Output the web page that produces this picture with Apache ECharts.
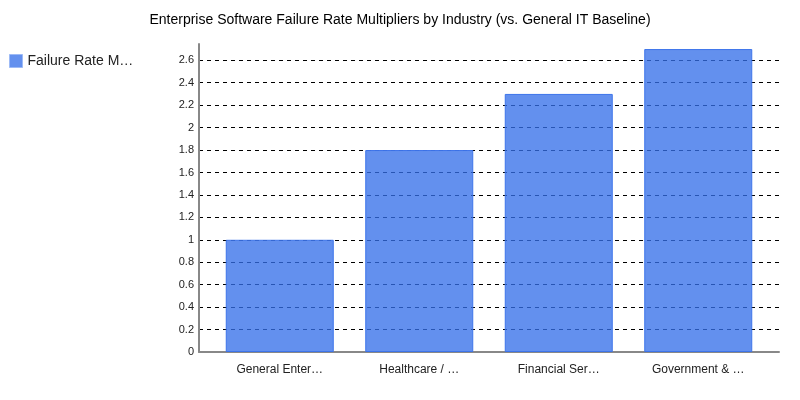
<!DOCTYPE html>
<html>
<head>
<meta charset="utf-8">
<script src="https://cdn.jsdelivr.net/npm/echarts@6/dist/echarts.min.js"></script>
<style>
  html, body { margin: 0; padding: 0; background: #fff; }
  #main { width: 800px; height: 400px; }
</style>
</head>
<body>
<div id="main"></div>
<script>
var industries = ['General Enterprise IT', 'Healthcare / Life Sciences', 'Financial Services', 'Government & Defense'];
var multipliers = [1.0, 1.8, 2.3, 2.7];
var seriesName = 'Failure Rate Multiplier';

var myChart = echarts.init(document.getElementById('main'));

function cut(s, n) {
  return s.length > n ? s.slice(0, n) + '…' : s;
}

var font = 'Liberation Sans, Arial, sans-serif';

option = {
  backgroundColor: '#fff',
  textStyle: { fontFamily: font },
  title: {
    text: 'Enterprise Software Failure Rate Multipliers by Industry (vs. General IT Baseline)',
    left: 'center',
    top: 8,
    textStyle: { fontSize: 14, fontWeight: 'normal', color: '#000', fontFamily: font }
  },
  legend: {
    orient: 'vertical',
    left: 9,
    top: 54,
    padding: 0,
    icon: 'rect',
    itemWidth: 13,
    itemHeight: 13,
    itemGap: 8,
    itemStyle: { borderColor: '#9dbaf6', borderWidth: 1 },
    formatter: function (n) { return cut(n, 14); },
    textStyle: { fontSize: 14, color: '#222', fontFamily: font },
    data: [seriesName]
  },
  // grid 0: gridlines, y labels, x axis line; grid 1: bars and category labels
  grid: [
    { left: 199, right: 21, top: 60.3, bottom: 48 },
    { left: 210, right: 32, top: 44, bottom: 48 }
  ],
  xAxis: [{
    gridIndex: 0,
    type: 'category',
    data: industries,
    axisLine: { lineStyle: { color: '#888', width: 2 } },
    axisTick: { show: false },
    axisLabel: { show: false },
    splitLine: { show: false }
  }, {
    gridIndex: 1,
    type: 'category',
    data: industries,
    axisLine: { show: false },
    axisTick: { show: false },
    axisLabel: {
      margin: 12,
      fontSize: 12,
      color: '#222',
      fontFamily: font,
      formatter: function (v) { return cut(v, 13); }
    }
  }],
  yAxis: [{
    gridIndex: 0,
    type: 'value',
    min: 0,
    max: 2.6,
    interval: 0.2,
    axisLine: { show: false },
    axisTick: { show: false },
    axisLabel: {
      margin: 5,
      fontSize: 11,
      color: '#222',
      fontFamily: font
    },
    splitLine: { lineStyle: { color: '#000', type: [4, 4], width: 1 } }
  }, {
    gridIndex: 1,
    type: 'value',
    min: 0,
    max: 2.745,
    interval: 0.2,
    offset: 11,
    axisLine: { show: true, lineStyle: { color: '#888', width: 2 } },
    axisTick: { show: false },
    axisLabel: { show: false },
    splitLine: { show: false }
  }],
  series: [{
    name: seriesName,
    type: 'bar',
    xAxisIndex: 1,
    yAxisIndex: 1,
    data: multipliers,
    barWidth: 108,
    itemStyle: {
      color: 'rgba(52,110,233,0.77)',
      borderColor: '#3d74ea',
      borderWidth: 1
    }
  }]
};

myChart.setOption(option);
</script>
</body>
</html>
